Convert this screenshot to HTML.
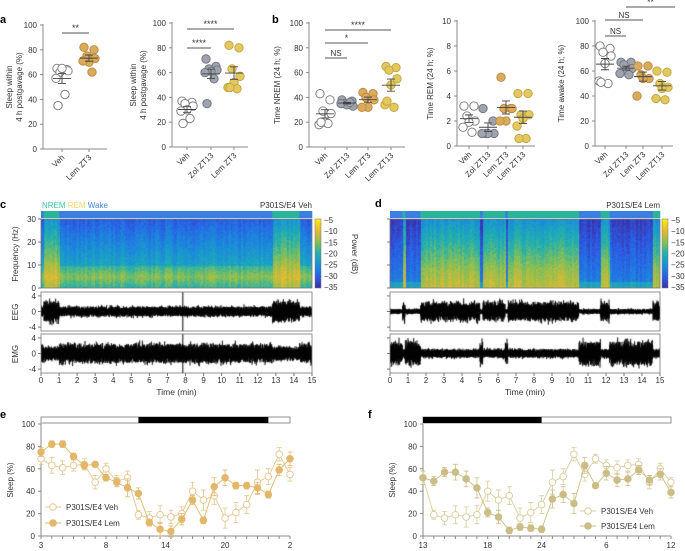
<!DOCTYPE html>
<html><head><meta charset="utf-8">
<style>
html,body{margin:0;padding:0;background:#fff;}
#wrap{position:relative;width:685px;height:551px;overflow:hidden;font-family:"Liberation Sans",sans-serif;}
svg text{font-family:"Liberation Sans",sans-serif;}
canvas{position:absolute;}
</style></head>
<body>
<div id="wrap">
<canvas id="specC" width="271" height="69" style="left:41px;top:219px;"></canvas>
<canvas id="specD" width="270" height="69" style="left:390px;top:219px;"></canvas>
<canvas id="eegC" width="271" height="39" style="left:41px;top:292px;"></canvas>
<canvas id="emgC" width="271" height="39" style="left:41px;top:334px;"></canvas>
<canvas id="eegD" width="270" height="39" style="left:390px;top:292px;"></canvas>
<canvas id="emgD" width="270" height="39" style="left:390px;top:334px;"></canvas>
<svg id="fig" width="685" height="551" style="position:absolute;left:0;top:0">
<defs>
<linearGradient id="cbar" x1="0" y1="1" x2="0" y2="0">
<stop offset="0" stop-color="#3b2fa8"/><stop offset="0.17" stop-color="#2a5fe8"/><stop offset="0.33" stop-color="#1a8fd8"/><stop offset="0.5" stop-color="#20b0b0"/><stop offset="0.67" stop-color="#8cc050"/><stop offset="0.83" stop-color="#e8b830"/><stop offset="1" stop-color="#f8f010"/>
</linearGradient>
</defs>
<g font-size="11" font-weight="bold" fill="#000">
<text x="0" y="23">a</text>
<text x="272" y="23">b</text>
<text x="0" y="208">c</text>
<text x="375" y="207">d</text>
<text x="0" y="418">e</text>
<text x="368" y="418">f</text>
</g>
</svg>
</div>
<script>
// ---------------- Panel a/b data ----------------
const a1Cats=["Veh","Lem ZT3"];
const a1Vals=[[65,64,62,63,65,57,44,35],[82,80,75,73,70,71,62]];
const a2Cats=["Veh","Zol ZT13","Lem ZT3"];
const a2Vals=[[37,36,35,33,30,29,23,19],[71,65,63,62,61,60,55,35],[82,80,63,57,52,48,47,48]];
const b1Cats=["Veh","Zol ZT13","Lem ZT3","Lem ZT13"];
const b1Vals=[[43,38,29,27,20,18,19,20],[38,37,35,33,34,35,36],[44,43,40,38,32,32],[65,64,62,55,50,34,32,37]];
const b2Cats=["Veh","Zol ZT13","Lem ZT3","Lem ZT13"];
const b2Vals=[[3.2,3.2,2.4,2.0,1.9,1.5,1.1],[3.0,2.0,1.0,1.0,1.0,1.0],[5.5,3.0,3.0,3.0,2.0,2.0],[4.2,4.2,2.5,2.5,2.2,1.6,0.6,0.6]];
const b3Cats=["Veh","Zol ZT13","Lem ZT3","Lem ZT13"];
const b3Vals=[[80,78,75,72,66,52,50,51],[67,67,65,62,60,58,57],[64,64,57,54,54,40],[60,59,50,47,46,38,37]];
const yTicks100=[0,20,40,60,80,100];
const yTicks10=[0,2,4,6,8,10];
// ---------------- Panel e/f data ----------------
const eVeh=[69,63,61,63,64,48,60,49,52,19,16,19,17,20,40,32,36,16,21,28,48,53,73,55];
const eLem=[75,82,82,71,63,64,52,48,43,38,12,6,4,15,32,14,44,52,45,45,43,37,59,69];
const eVehErr=[5,7,6,5,5,6,5,5,6,4,6,8,6,6,8,9,8,9,9,8,11,7,6,6];
const eLemErr=[4,3,3,3,3,2,3,4,8,5,3,6,5,5,4,3,8,7,3,3,5,3,5,6];
const eTickLabels=["3","8","14","20","2"];
const eTickIdx=[0,6,11.5,17,23];
const fVeh=[52,19,16,19,17,19,40,32,36,16,21,28,48,53,73,55,69,63,61,63,64,48,60,48];
const fLem=[52,49,57,57,51,43,21,17,5,8,7,6,33,37,29,63,45,56,50,51,59,50,55,39];
const fVehErr=[6,4,6,8,9,8,9,9,8,9,9,8,11,7,6,6,4,5,6,5,5,6,5,4];
const fLemErr=[6,4,4,7,7,9,4,6,3,3,3,3,8,7,9,7,2,6,6,6,4,4,5,5];
const fTickLabels=["13","18","24","6","12"];
const fTickIdx=[0,6,11,17,23];

const NS="http://www.w3.org/2000/svg";
function mk(tag,attrs,parent){const e=document.createElementNS(NS,tag);for(const k in attrs)e.setAttribute(k,attrs[k]);(parent||document.getElementById('fig')).appendChild(e);return e;}
function txt(x,y,s,attrs,parent){const e=mk('text',Object.assign({x:x,y:y,'font-size':8,fill:'#333'},attrs||{}),parent);e.textContent=s;return e;}

const jit=[-5,5,-2,6,0,-6,3,-4,6];
const fills=[{f:'#fff',s:'#777'},{f:'#9ea3ae',s:'#6e7380'},{f:'#dcaa5c',s:'#b88a3c'},{f:'#e3c860',s:'#bfa53c'}];

function dotPlot(o){
  const g=mk('g',{});
  
  
  const y=v=>o.y0-(v/o.max)*(o.y0-o.y1);
  const ax=mk('path',{d:`M${o.x0},${o.y1-1}V${o.y0}H${o.x1}`,stroke:'#888',fill:'none','stroke-width':1},g);
  
  o.ticks.forEach(t=>{
    mk('line',{x1:o.x0-3,x2:o.x0,y1:y(t),y2:y(t),stroke:'#888'},g);
    const tl=txt(o.x0-6,y(t)+3,String(t),{'text-anchor':'end'},g);
    
  });
  const yl=txt(0,0,'',{'text-anchor':'middle',transform:`translate(${o.ylx},${(o.y0+o.y1)/2}) rotate(-90)`},g);
  
  o.ylab.forEach((s,i)=>{const ts=mk('tspan',{x:0,dy:i?10:0},yl);ts.textContent=s;});
  o.cats.forEach((c,i)=>{
    const cx=o.cx[i];
    mk('line',{x1:cx,x2:cx,y1:o.y0,y2:o.y0+3,stroke:'#888'},g);
    const cl=txt(cx+3,o.y0+9,c,{'text-anchor':'end',transform:`rotate(-45 ${cx+3} ${o.y0+9})`},g);
    
    const vals=o.vals[i];const col=fills[o.colors[i]];
    vals.forEach((v,j)=>{
      const p=mk('circle',{cx:cx+jit[j%jit.length],cy:y(v),r:4.2,fill:col.f,stroke:col.s,'stroke-width':0.9},g);
      
    });
    const m=vals.reduce((a,b)=>a+b,0)/vals.length;
    const sd=Math.sqrt(vals.reduce((a,b)=>a+(b-m)*(b-m),0)/(vals.length-1))/Math.sqrt(vals.length);
    const mb=mk('path',{d:`M${cx-9},${y(m)}H${cx+9}M${cx},${y(m+sd)}V${y(m-sd)}M${cx-4},${y(m+sd)}H${cx+4}M${cx-4},${y(m-sd)}H${cx+4}`,stroke:'#444','stroke-width':0.9,fill:'none'},g);
    
  });
  (o.sig||[]).forEach(s=>{
    mk('line',{x1:o.cx[s[0]],x2:s[4]||o.cx[s[1]],y1:s[2],y2:s[2],stroke:'#555'},g);
    const t=txt(((o.cx[s[0]])+(s[4]||o.cx[s[1]]))/2,s[2]-2,s[3],{'text-anchor':'middle','font-size':s[3]=='NS'?8:9},g);
    
  });
}
dotPlot({name:'plot-a1',x0:43,x1:107,y0:149,y1:25,max:100,ticks:yTicks100,cats:a1Cats,vals:a1Vals,cx:[62,89],colors:[0,2],ylx:12,ylab:['Sleep within','4 h postgavage (%)'],sig:[[0,1,33,'**']]});
dotPlot({name:'plot-a2',x0:172,x1:248,y0:147,y1:23,max:100,ticks:yTicks100,cats:a2Cats,vals:a2Vals,cx:[187,211,234],colors:[0,1,3],ylx:136,ylab:['Sleep within','4 h postgavage (%)'],sig:[[0,2,29,'****'],[0,1,48,'****']]});
dotPlot({name:'plot-b-nrem',x0:309,x1:405,y0:147,y1:23,max:100,ticks:yTicks100,cats:b1Cats,vals:b1Vals,cx:[325,347,368,391],colors:[0,1,2,3],ylx:280,ylab:['Time NREM (24 h; %)'],sig:[[0,1,58,'NS'],[0,2,43,'*'],[0,3,30,'****']]});
dotPlot({name:'plot-b-rem',x0:457,x1:535,y0:146,y1:21,max:10,ticks:yTicks10,cats:b2Cats,vals:b2Vals,cx:[469,488,506,523],colors:[0,1,2,3],ylx:433,ylab:['Time REM (24 h; %)']});
dotPlot({name:'plot-b-awake',x0:595,x1:673,y0:146,y1:21,max:100,ticks:yTicks100,cats:b3Cats,vals:b3Vals,cx:[605,626,643,662],colors:[0,1,2,3],ylx:564,ylab:['Time awake (24 h; %)'],sig:[[0,1,36,'NS'],[0,2,20,'NS'],[1,3,7,'**',675]]});

// ---------------- Time-course panels ----------------
function tc(o){
  const g=mk('g',{});
  
  const n=o.veh.length;
  const x=i=>o.x0+i*(o.x1-o.x0)/(n-1);
  const y=v=>o.y0-v*(o.y0-o.y1)/100;
  const ax=mk('path',{d:`M${o.x0},${o.y1}V${o.y0}H${o.x1}`,stroke:'#888',fill:'none'},g);
  
  const lb=mk('rect',{x:o.x0,y:o.y1-7,width:o.x1-o.x0,height:6,fill:'#fff',stroke:'#777','stroke-width':0.8},g);
  
  const db=mk('rect',{x:x(o.dark[0]),y:o.y1-7,width:x(o.dark[1])-x(o.dark[0]),height:6,fill:'#000'},g);
  
  yTicks100.forEach(t=>{mk('line',{x1:o.x0-3,x2:o.x0,y1:y(t),y2:y(t),stroke:'#888'},g);
    const l=txt(o.x0-6,y(t)+3,String(t),{'text-anchor':'end'},g);});
  for(let i=0;i<n;i++)mk('line',{x1:x(i),x2:x(i),y1:o.y0,y2:o.y0+3,stroke:'#888'},g);
  o.tl.forEach((s,k)=>{const l=txt(x(o.ti[k]),o.y0+12,s,{'text-anchor':'middle'},g);});
  const xt=txt((o.x0+o.x1)/2,o.y0+26,'ZT',{'text-anchor':'middle'},g);
  const yt=txt(0,0,'Sleep (%)',{'text-anchor':'middle',transform:`translate(${o.x0-28},${(o.y0+o.y1)/2}) rotate(-90)`},g);
  [[o.veh,o.vehErr,false],[o.lem,o.lemErr,true]].forEach(([d,er,filled])=>{
    const col=filled?o.cLem:o.cVeh;
    let p='';d.forEach((v,i)=>p+=(i?'L':'M')+x(i)+','+y(v));
    const ln=mk('path',{d:p,stroke:col,fill:'none','stroke-width':0.9},g);
    
    d.forEach((v,i)=>{
      mk('path',{d:`M${x(i)},${y(v+er[i])}V${y(v-er[i])}M${x(i)-2.5},${y(v+er[i])}H${x(i)+2.5}M${x(i)-2.5},${y(v-er[i])}H${x(i)+2.5}`,stroke:col,'stroke-width':0.8,fill:'none'},g);
      const c=mk('circle',{cx:x(i),cy:y(v),r:3.3,fill:filled?col:'#fff',stroke:col,'stroke-width':0.9},g);
      
    });
  });
  o.leg.forEach((L,k)=>{
    const col=k?o.cLem:o.cVeh;
    mk('line',{x1:L[0],x2:L[0]+16,y1:L[1],y2:L[1],stroke:col},g);
    mk('circle',{cx:L[0]+8,cy:L[1],r:3.3,fill:k?col:'#fff',stroke:col},g);
    const t=txt(L[0]+21,L[1]+3,k?'P301S/E4 Lem':'P301S/E4 Veh',{},g);
    
  });
}
tc({name:'plot-e',x0:41,x1:290,y0:536,y1:424,veh:eVeh,lem:eLem,vehErr:eVehErr,lemErr:eLemErr,tl:eTickLabels,ti:eTickIdx,dark:[9,21],cVeh:'#e6c48e',cLem:'#e2b76a',leg:[[45,507],[45,523]]});
tc({name:'plot-f',x0:423,x1:671,y0:536,y1:424,veh:fVeh,lem:fLem,vehErr:fVehErr,lemErr:fLemErr,tl:fTickLabels,ti:fTickIdx,dark:[0,11],cVeh:'#d9cc9a',cLem:'#cbbd86',leg:[[580,511],[580,526]]});

// ---------------- Spectrogram panels ----------------
const cStates=[[0,0.15,'W'],[0.15,1.0,'N'],[1.0,12.8,'W'],[12.8,14.3,'N'],[14.3,15,'W']];
const dStates=[[0,0.7,'W'],[0.7,0.85,'N'],[0.85,1.7,'W'],[1.7,5.0,'N'],[5.0,5.15,'W'],[5.15,6.4,'N'],[6.4,6.55,'W'],[6.55,10.5,'N'],[10.5,11.7,'W'],[11.7,12.2,'N'],[12.2,14.6,'W'],[14.6,15,'N']];
const timeTicks=[0,1,2,3,4,5,6,7,8,9,10,11,12,13,14,15];
const freqTicks=[0,10,20,30];
const cbTicks=[-5,-10,-15,-20,-25,-30,-35];
const sigTicks=[4,0,-4];
const stColor={W:'#3b7fe0',N:'#2ab59a'};

function specPanel(o){
  const g=mk('g',{});
  const W=o.x1-o.x0, tx=t=>o.x0+t/15*W;
  o.states.forEach(s=>{const r=mk('rect',{x:tx(s[0]),y:211,width:tx(s[1])-tx(s[0])+0.3,height:7,fill:stColor[s[2]]},g);});
  const tt=txt(o.x1,208,o.title,{'text-anchor':'end'},g);
  [[219,69],[292,39],[334,39]].forEach(b=>mk('rect',{x:o.x0,y:b[0],width:W,height:b[1],fill:'none',stroke:'#777','stroke-width':0.8},g));
  freqTicks.forEach(f=>{const yy=288-f/30*69;mk('line',{x1:o.x0-3,x2:o.x0,y1:yy,y2:yy,stroke:'#777'},g);if(o.labels){txt(o.x0-5,yy+3,String(f),{'text-anchor':'end'},g);}});
  [[311.5],[353.5]].forEach(c=>sigTicks.forEach(v=>{const yy=c[0]-v*3.9;mk('line',{x1:o.x0-3,x2:o.x0,y1:yy,y2:yy,stroke:'#777'},g);if(o.labels)txt(o.x0-5,yy+3,String(v),{'text-anchor':'end'},g);}));
  timeTicks.forEach(t=>{mk('line',{x1:tx(t),x2:tx(t),y1:373,y2:376,stroke:'#777'},g);const l=txt(tx(t),383,String(t),{'text-anchor':'middle'},g);});
  const xt=txt((o.x0+o.x1)/2,395,'Time (min)',{'text-anchor':'middle','font-size':8.5},g);
  if(o.labels){
    txt(0,0,'Frequency (Hz)',{'text-anchor':'middle',transform:`translate(18,254) rotate(-90)`},g);
    txt(0,0,'EEG',{'text-anchor':'middle',transform:`translate(18,312) rotate(-90)`},g);
    txt(0,0,'EMG',{'text-anchor':'middle',transform:`translate(18,354) rotate(-90)`},g);
  }
  const cb=mk('rect',{x:o.cb,y:219,width:6,height:69,fill:'url(#cbar)',stroke:'#777','stroke-width':0.5},g);
  
  cbTicks.forEach(v=>{const yy=219+(-5-v)/30*67+1;txt(o.cb+9,yy+3,String(v).replace('-','\u2212'),{},g);});
}
specPanel({name:'panel-c',x0:41,x1:312,states:cStates,title:'P301S/E4 Veh',labels:true,cb:315});
specPanel({name:'panel-d',x0:390,x1:660,states:dStates,title:'P301S/E4 Lem',labels:false,cb:662});
const pw=txt(0,0,'Power (dB)',{'text-anchor':'middle',transform:'translate(352,254) rotate(90)'});

const lg=txt(42,208,'',{'font-size':8});
[['NREM','#3cc4a5'],[' REM','#f2d36b'],[' Wake','#3f7fe0']].forEach(p=>{const t=mk('tspan',{fill:p[1]},lg);t.textContent=p[0];});

// canvas texture
function hsh(i){const s=Math.sin(i*12.9898+78.233)*43758.5453;return s-Math.floor(s);}
const cmapStops=[[-35,[59,47,168]],[-30,[42,95,232]],[-25,[26,143,216]],[-20,[32,176,176]],[-15,[140,192,80]],[-10,[232,184,48]],[-5,[248,240,16]]];
function cmap(v){v=Math.max(-35,Math.min(-5,v));for(let i=0;i<cmapStops.length-1;i++){const a=cmapStops[i],b=cmapStops[i+1];if(v<=b[0]){const t=(v-a[0])/(b[0]-a[0]);return a[1].map((c,k)=>Math.round(c+(b[1][k]-c)*t));}}return cmapStops[6][1];}
function stateAt(states,t){for(const s of states)if(t>=s[0]&&t<s[1])return s[2];return 'W';}
function drawSpec(id,states,wake){
  const c=document.getElementById(id),x=c.getContext('2d'),W=c.width,H=c.height;
  const img=x.createImageData(W,H);
  for(let i=0;i<W;i++){const t=i/W*15,st=stateAt(states,t);const colv=(hsh(Math.floor(i/2)*17)-0.5)*3;
    for(let j=0;j<H;j++){const f=(H-j)/H*30;let p;
      if(st=='N')p=wake?(f<12?-11-Math.abs(f-5)*0.5:-15-(f-12)*0.5):(f<7?-12-f*0.3:-14-(f-7)*0.45);
      else p=wake?(f<10?-15-Math.abs(f-5)*0.9:-22-(f-10)*0.4):(f<3?-22:-26-f*0.25);
      p+=colv+(hsh(i*131+j*7)-0.5)*3.5;
      const col=cmap(p),k=(j*W+i)*4;img.data[k]=col[0];img.data[k+1]=col[1];img.data[k+2]=col[2];img.data[k+3]=255;}}
  x.putImageData(img,0,0);
}
drawSpec('specC',cStates,true);drawSpec('specD',dStates,false);
function drawTrace(id,states,ampN,ampW,seed,spike){
  const c=document.getElementById(id),x=c.getContext('2d'),W=c.width,H=c.height;x.strokeStyle='#000';x.lineWidth=1;
  x.beginPath();
  for(let i=0;i<W*3;i++){const t=i/(W*3)*15,a=(stateAt(states,t)=='N'?ampN:ampW);
    const px=i/3;const up=a*(0.35+0.45*hsh(i+seed)+0.35*Math.pow(hsh(i*7+seed),6));const dn=a*(0.35+0.45*hsh(i*3+seed)+0.35*Math.pow(hsh(i*11+seed),6));
    x.moveTo(px,H/2-up*3.9);x.lineTo(px,H/2+dn*3.9);}
  if(spike){const px=spike/15*W;x.moveTo(px,0);x.lineTo(px,H);}
  x.stroke();
}
drawTrace('eegC',cStates,3.3,1.6,11,7.85);
drawTrace('emgC',cStates,2.2,3.0,23,7.85);
drawTrace('eegD',dStates,3.0,0.8,37,0);
drawTrace('emgD',dStates,1.4,3.8,51,0);
</script>
</body></html>
